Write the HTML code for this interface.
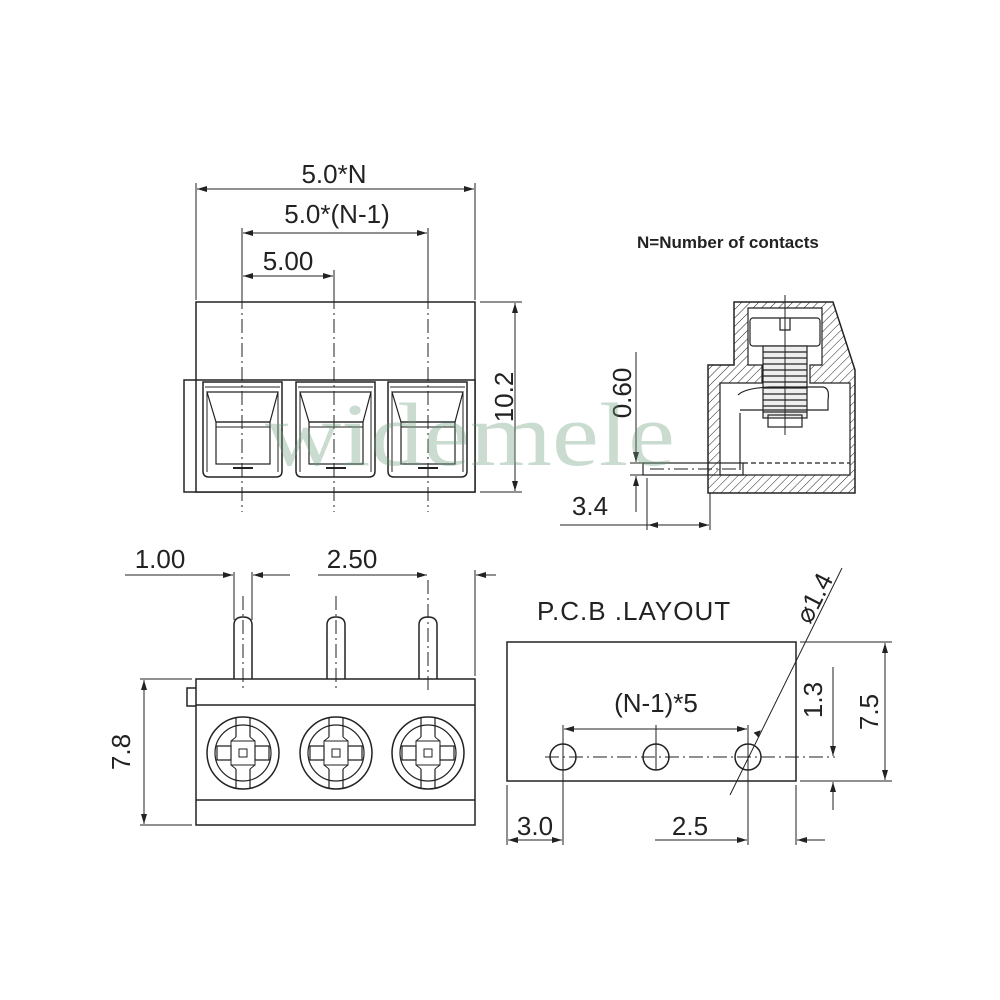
<!DOCTYPE html>
<html><head><style>html,body{margin:0;padding:0;background:#fff}svg{display:block}</style></head><body>
<svg width="1000" height="1000" viewBox="0 0 1000 1000" xmlns="http://www.w3.org/2000/svg" font-family="Liberation Sans, sans-serif">
<defs>
<pattern id="h" patternUnits="userSpaceOnUse" width="6" height="6" patternTransform="rotate(45)"><line x1="0" y1="0" x2="0" y2="6" stroke="#222" stroke-width="1"/></pattern>
<marker id="a" viewBox="0 0 10 6" refX="10" refY="3" markerWidth="12" markerHeight="6" orient="auto-start-reverse" markerUnits="userSpaceOnUse"><path d="M0,0 L10,3 L0,6z" fill="#222"/></marker>
<g id="pocket">
<path d="M0,0 H79 V89 Q79,95 73,95 H6 Q0,95 0,89 Z" fill="none" stroke="#222" stroke-width="1.5"/>
<line x1="2" y1="5" x2="77" y2="5" stroke="#222"/>
<path d="M4,10 H75 L67,40 H13 Z" fill="none" stroke="#222" stroke-width="1.2"/>
<rect x="13" y="40" width="54" height="42" fill="none" stroke="#222" stroke-width="1.2"/>
<line x1="13" y1="45" x2="67" y2="45" stroke="#222"/>
<line x1="4" y1="10" x2="4" y2="90" stroke="#222"/>
<line x1="75" y1="10" x2="75" y2="90" stroke="#222"/>
<line x1="30" y1="86" x2="50" y2="86" stroke="#222" stroke-width="2"/>
</g>
<g id="screw">
<circle r="36" fill="none" stroke="#222" stroke-width="1.5"/>
<circle r="28" fill="none" stroke="#222" stroke-width="1.2"/>
<path d="M-7,-36 V-16 M7,-36 V-16 M-7,36 V16 M7,36 V16 M-26,-7 H-12 V7 H-26 Z M26,-7 H12 V7 H26 Z" fill="none" stroke="#222" stroke-width="1.2"/>
<rect x="-12" y="-12" width="24" height="24" fill="none" stroke="#222"/>
<rect x="-4" y="-4" width="8" height="8" fill="none" stroke="#222"/>
<path d="M-7,-16 L-12,-12 M7,-16 L12,-12 M-7,16 L-12,12 M7,16 L12,12" stroke="#222"/>
</g>
<g id="pin"><path d="M-9,62 V8 Q-9,0 0,0 Q9,0 9,8 V62" fill="none" stroke="#222" stroke-width="1.5"/></g>
</defs>

<g stroke="#222" fill="none" stroke-width="1.5">
<rect x="196" y="302" width="279" height="190"/>
<rect x="184" y="380" width="291" height="112" fill="#fff"/>
<line x1="196" y1="380" x2="196" y2="492"/>
</g>
<use href="#pocket" x="203" y="382"/>
<use href="#pocket" x="296" y="382"/>
<use href="#pocket" x="388" y="382"/>
<g stroke="#222" stroke-width="1" stroke-dasharray="14,4,2,4">
<line x1="242" y1="295" x2="242" y2="512"/><line x1="334" y1="295" x2="334" y2="512"/><line x1="428" y1="295" x2="428" y2="512"/>
</g>
<g stroke="#222" stroke-width="1" fill="none">
<line x1="196" y1="183" x2="196" y2="300"/><line x1="475" y1="183" x2="475" y2="300"/>
<line x1="242" y1="228" x2="242" y2="295"/><line x1="428" y1="228" x2="428" y2="295"/><line x1="334" y1="270" x2="334" y2="295"/>
<line x1="197" y1="189" x2="474" y2="189" marker-start="url(#a)" marker-end="url(#a)"/>
<line x1="243" y1="233" x2="427" y2="233" marker-start="url(#a)" marker-end="url(#a)"/>
<line x1="243" y1="276" x2="333" y2="276" marker-start="url(#a)" marker-end="url(#a)"/>
<line x1="480" y1="302" x2="522" y2="302"/><line x1="480" y1="492" x2="522" y2="492"/>
<line x1="515" y1="303" x2="515" y2="491" marker-start="url(#a)" marker-end="url(#a)"/>
</g>
<g font-size="26" fill="#222" text-anchor="middle">
<text x="334" y="183">5.0*N</text>
<text x="337" y="223">5.0*(N-1)</text>
<text x="288" y="270">5.00</text>
<text transform="translate(513,397) rotate(-90)">10.2</text>
</g>

<path d="M734,302 H833 L855,370 V493 H708 V365 H734 Z" fill="url(#h)" stroke="#222" stroke-width="1.5"/>
<path d="M748,308 H822 V365 H810 V383 H850 V475 H720 V383 H762 V365 H748 Z" fill="#fff" stroke="#222" stroke-width="1.2"/>
<g stroke="#222" fill="none" stroke-width="1.2">
<rect x="750" y="318" width="70" height="28" rx="3"/>
<path d="M780,318 V330 H790 V318"/>
<rect x="763" y="346" width="44" height="72" fill="#eee"/>
<path d="M763,352 H807 M763,358 H807 M763,364 H807 M763,370 H807 M763,376 H807 M763,382 H807 M763,388 H807 M763,394 H807 M763,400 H807 M763,406 H807 M763,412 H807"/>
<path d="M738,395 Q745,388 770,387 H823 Q830,388 828,400 V410 H740" />
<rect x="768" y="415" width="34" height="12"/>
<line x1="785" y1="295" x2="785" y2="435" stroke-width="1"/>
<line x1="740" y1="413" x2="740" y2="470"/>
<rect x="643" y="463" width="100" height="12"/>
<line x1="743" y1="463" x2="850" y2="463" stroke-dasharray="5,3"/>
<line x1="650" y1="469" x2="740" y2="469" stroke-dasharray="14,4,2,4" stroke-width="1"/>
</g>
<g stroke="#222" stroke-width="1" fill="none">
<line x1="636" y1="352" x2="636" y2="462" marker-end="url(#a)"/>
<line x1="636" y1="512" x2="636" y2="476" marker-end="url(#a)"/>
<line x1="630" y1="463" x2="643" y2="463"/><line x1="630" y1="475" x2="643" y2="475"/>
<line x1="647" y1="478" x2="647" y2="530"/><line x1="710" y1="493" x2="710" y2="530"/>
<line x1="560" y1="525" x2="709" y2="525"/>
<line x1="648" y1="525" x2="709" y2="525" marker-start="url(#a)" marker-end="url(#a)"/>
</g>
<g font-size="26" fill="#222" text-anchor="middle">
<text transform="translate(631,393) rotate(-90)">0.60</text>
<text x="590" y="515">3.4</text>
</g>
<text x="637" y="248" font-size="17" font-weight="bold" fill="#222">N=Number of contacts</text>

<use href="#pin" x="243" y="617"/><use href="#pin" x="336" y="617"/><use href="#pin" x="428" y="617"/>
<g stroke="#222" fill="none" stroke-width="1.5">
<rect x="196" y="679" width="279" height="146"/>
<line x1="196" y1="705" x2="475" y2="705"/><line x1="196" y1="800" x2="475" y2="800"/>
<path d="M196,688 H187 V706 H196"/>
</g>
<use href="#screw" x="243" y="753"/><use href="#screw" x="336" y="753"/><use href="#screw" x="428" y="753"/>
<g stroke="#222" stroke-width="1" stroke-dasharray="14,4,2,4">
<line x1="243" y1="596" x2="243" y2="690"/><line x1="336" y1="596" x2="336" y2="690"/><line x1="428" y1="580" x2="428" y2="690"/>
</g>
<g stroke="#222" stroke-width="1" fill="none">
<line x1="234" y1="572" x2="234" y2="620"/><line x1="252" y1="572" x2="252" y2="620"/>
<line x1="125" y1="575" x2="233" y2="575" marker-end="url(#a)"/>
<line x1="290" y1="575" x2="253" y2="575" marker-end="url(#a)"/>
<line x1="318" y1="575" x2="427" y2="575" marker-end="url(#a)"/>
<line x1="496" y1="575" x2="476" y2="575" marker-end="url(#a)"/>
<line x1="475" y1="570" x2="475" y2="676"/>
<line x1="140" y1="679" x2="192" y2="679"/><line x1="140" y1="825" x2="192" y2="825"/>
<line x1="144" y1="680" x2="144" y2="824" marker-start="url(#a)" marker-end="url(#a)"/>
</g>
<g font-size="26" fill="#222" text-anchor="middle">
<text x="160" y="568">1.00</text>
<text x="352" y="568">2.50</text>
<text transform="translate(130,752) rotate(-90)">7.8</text>
</g>

<text x="537" y="620" font-size="26" fill="#222" letter-spacing="1">P.C.B .LAYOUT</text>
<g stroke="#222" fill="none" stroke-width="1.5">
<rect x="507" y="642" width="289" height="139"/>
<circle cx="563" cy="757" r="13"/><circle cx="656" cy="757" r="13"/><circle cx="748" cy="757" r="13"/>
</g>
<g stroke="#222" stroke-width="1" fill="none">
<line x1="545" y1="757" x2="835" y2="757" stroke-dasharray="14,4,2,4"/>
<line x1="563" y1="725" x2="563" y2="845"/><line x1="656" y1="725" x2="656" y2="770"/><line x1="748" y1="725" x2="748" y2="845"/>
<line x1="564" y1="729" x2="747" y2="729" marker-start="url(#a)" marker-end="url(#a)"/>
<line x1="507" y1="785" x2="507" y2="845"/><line x1="796" y1="785" x2="796" y2="845"/>
<line x1="508" y1="840" x2="562" y2="840" marker-start="url(#a)" marker-end="url(#a)"/>
<line x1="655" y1="840" x2="747" y2="840" marker-end="url(#a)"/>
<line x1="825" y1="840" x2="797" y2="840" marker-end="url(#a)"/>
<line x1="800" y1="642" x2="892" y2="642"/><line x1="800" y1="781" x2="892" y2="781"/>
<line x1="885" y1="643" x2="885" y2="780" marker-start="url(#a)" marker-end="url(#a)"/>
<line x1="833" y1="667" x2="833" y2="756" marker-end="url(#a)"/>
<line x1="833" y1="810" x2="833" y2="782" marker-end="url(#a)"/>
<line x1="842" y1="568" x2="730" y2="795"/>
<path d="M754,733 L760,731 L758,737" fill="#222"/>
</g>
<g font-size="26" fill="#222" text-anchor="middle">
<text x="656" y="712">(N-1)*5</text>
<text x="535" y="835">3.0</text>
<text x="690" y="835">2.5</text>
<text transform="translate(878,712) rotate(-90)">7.5</text>
<text transform="translate(822,700) rotate(-90)">1.3</text>
<text transform="translate(822,602) rotate(-63)">⌀1.4</text>
</g>

<text x="265" y="465" font-family="Liberation Serif, serif" font-size="90" fill="#6a9a78" opacity="0.35" textLength="410" lengthAdjust="spacingAndGlyphs">widemele</text>
</svg>
</body></html>
